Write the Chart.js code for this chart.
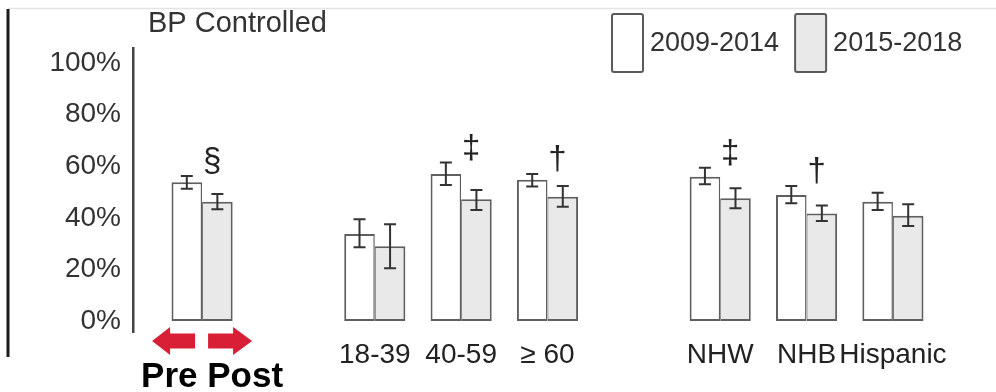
<!DOCTYPE html>
<html>
<head>
<meta charset="utf-8">
<script src="https://cdn.jsdelivr.net/npm/chart.js@4/dist/chart.umd.min.js"></script>
<style>
  html, body { margin: 0; padding: 0; background: #fff; }
  canvas { display: block; }
</style>
</head>
<body>
<canvas id="chart" width="996" height="392"></canvas>
<script>
// Slots along the x axis; empty strings are the gaps between groups.
const slotLabels = ["Overall", "", "18-39", "40-59", "≥ 60", "", "NHW", "NHB", "Hispanic"];

// One bar pair per group.
const groups = ["Overall", "18-39", "40-59", "≥ 60", "NHW", "NHB", "Hispanic"];

const seriesNames = ["2009-2014", "2015-2018"];

// % with blood pressure controlled, with 95% CI bounds
const controlled0914 = [53.8, 33.7, 57.0, 54.7, 55.9, 48.8, 46.2];
const low0914        = [51.3, 28.6, 52.7, 52.1, 53.0, 45.6, 43.0];
const high0914       = [56.2, 39.4, 61.4, 57.0, 59.4, 52.3, 49.7];

const controlled1518 = [46.2, 29.0, 47.2, 48.2, 47.6, 41.7, 40.8];
const low1518        = [43.3, 20.4, 43.0, 44.3, 43.7, 38.8, 36.8];
const high1518       = [49.2, 37.5, 50.8, 52.3, 51.4, 44.8, 45.2];

// Significance markers for the change between periods
const significance = ["§", "", "‡", "†", "‡", "†", ""];

const yTicks = [0, 20, 40, 60, 80, 100];

const FONT = '"Liberation Sans", Arial, Helvetica, sans-serif';
const slotOf = g => slotLabels.indexOf(g);
const toPoints = vals => vals.map((v, i) => ({ x: slotOf(groups[i]), y: v }));

const lows = [low0914, low1518];
const highs = [high0914, high1518];

const extras = {
  id: 'extras',
  beforeDraw(chart) {
    const ctx = chart.ctx;
    ctx.save();
    // page frame
    ctx.strokeStyle = '#e4e4e4';
    ctx.lineWidth = 1.5;
    ctx.beginPath();
    ctx.moveTo(8, 8.5);
    ctx.lineTo(chart.width, 8.5);
    ctx.stroke();
    ctx.strokeStyle = '#1c1c1c';
    ctx.lineWidth = 3;
    ctx.beginPath();
    ctx.moveTo(8, 9);
    ctx.lineTo(8, 357);
    ctx.stroke();
    ctx.restore();
  },
  afterDatasetsDraw(chart) {
    const ctx = chart.ctx;
    const xs = chart.scales.x, ys = chart.scales.y;
    ctx.save();
    // error bars
    ctx.strokeStyle = '#333';
    ctx.lineWidth = 2;
    chart.data.datasets.forEach((ds, d) => {
      const meta = chart.getDatasetMeta(d);
      meta.data.forEach((bar, i) => {
        const x = bar.x;
        const yHi = ys.getPixelForValue(highs[d][i]);
        const yLo = ys.getPixelForValue(lows[d][i]);
        ctx.beginPath();
        ctx.moveTo(x, yHi); ctx.lineTo(x, yLo);
        ctx.moveTo(x - 6, yHi); ctx.lineTo(x + 6, yHi);
        ctx.moveTo(x - 6, yLo); ctx.lineTo(x + 6, yLo);
        ctx.stroke();
      });
    });
    // significance markers
    ctx.fillStyle = '#222';
    ctx.font = '33px ' + FONT;
    ctx.textAlign = 'center';
    ctx.textBaseline = 'alphabetic';
    significance.forEach((s, i) => {
      if (!s) return;
      const x = xs.getPixelForValue(slotOf(groups[i])) + 10;
      const bottom = ys.getPixelForValue(high0914[i]) - 2;
      const m = ctx.measureText(s);
      ctx.fillText(s, x, bottom - m.actualBoundingBoxDescent);
    });
    ctx.restore();
  },
  afterDraw(chart) {
    const ctx = chart.ctx;
    const xs = chart.scales.x;
    const area = chart.chartArea;
    ctx.save();
    // title
    ctx.fillStyle = '#333';
    ctx.font = '29px ' + FONT;
    ctx.textAlign = 'left';
    ctx.textBaseline = 'alphabetic';
    ctx.fillText('BP Controlled', 148, 32);

    // legend
    ctx.font = '27px ' + FONT;
    let lx = 612;
    chart.data.datasets.forEach(ds => {
      ctx.fillStyle = ds.backgroundColor;
      ctx.strokeStyle = '#5a5a5a';
      ctx.lineWidth = 2;
      ctx.beginPath();
      ctx.roundRect(lx, 14, 31, 58, 2);
      ctx.fill();
      ctx.stroke();
      ctx.fillStyle = '#333';
      ctx.fillText(ds.label, lx + 38, 51);
      lx += 38 + ctx.measureText(ds.label).width + 16;
    });

    // Pre / Post arrows under the overall pair
    const cx = xs.getPixelForValue(slotOf('Overall'));
    const cy = area.bottom + 9;
    ctx.fillStyle = '#d91f35';
    ctx.beginPath();
    ctx.moveTo(cx - 50, cy);
    ctx.lineTo(cx - 32, cy - 14);
    ctx.lineTo(cx - 32, cy - 7.5);
    ctx.lineTo(cx - 7, cy - 7.5);
    ctx.lineTo(cx - 7, cy + 7.5);
    ctx.lineTo(cx - 32, cy + 7.5);
    ctx.lineTo(cx - 32, cy + 14);
    ctx.closePath();
    ctx.fill();
    ctx.beginPath();
    ctx.moveTo(cx + 50, cy);
    ctx.lineTo(cx + 31, cy - 14);
    ctx.lineTo(cx + 31, cy - 7.5);
    ctx.lineTo(cx + 6, cy - 7.5);
    ctx.lineTo(cx + 6, cy + 7.5);
    ctx.lineTo(cx + 31, cy + 7.5);
    ctx.lineTo(cx + 31, cy + 14);
    ctx.closePath();
    ctx.fill();

    ctx.fillStyle = '#000';
    ctx.font = 'bold 35px ' + FONT;
    ctx.textAlign = 'center';
    ctx.fillText('Pre Post', cx + 10, 387);
    ctx.restore();
  }
};

new Chart(document.getElementById('chart'), {
  type: 'bar',
  data: {
    datasets: [
      {
        label: seriesNames[0],
        data: toPoints(controlled0914),
        backgroundColor: '#ffffff',
        borderColor: '#5f5f5f',
        borderWidth: { top: 2, left: 2, bottom: 2, right: 1.5 },
        borderSkipped: false
      },
      {
        label: seriesNames[1],
        data: toPoints(controlled1518),
        backgroundColor: '#e8e9e8',
        borderColor: '#5f5f5f',
        borderWidth: { top: 2, left: 1, bottom: 2, right: 2 },
        borderSkipped: false
      }
    ]
  },
  options: {
    responsive: false,
    animation: false,
    devicePixelRatio: 1,
    layout: { padding: { top: 48, right: 34, bottom: 0, left: 0 } },
    datasets: { bar: { categoryPercentage: 0.708, barPercentage: 1.0 } },
    plugins: { legend: { display: false }, tooltip: { enabled: false }, title: { display: false } },
    scales: {
      x: {
        type: 'linear',
        offset: false,
        min: -0.8,
        max: 8.8,
        grid: { display: false, drawTicks: false },
        border: { display: false },
        afterBuildTicks: s => { s.ticks = slotLabels.map((_, i) => ({ value: i })); },
        afterFit: s => { s.height = 60; },
        ticks: {
          autoSkip: false,
          maxRotation: 0,
          padding: 6,
          color: '#222',
          font: { family: FONT, size: 28 },
          callback: v => (slotLabels[v] === 'Overall' ? '' : slotLabels[v])
        }
      },
      y: {
        min: -4.26,
        max: 105.8,
        grid: { display: false, drawTicks: false },
        border: { display: true, color: '#444', width: 2.5 },
        afterBuildTicks: s => { s.ticks = yTicks.map(v => ({ value: v })); },
        afterFit: s => { s.width = 133; },
        ticks: {
          padding: 12,
          color: '#333',
          font: { family: FONT, size: 28 },
          callback: v => v + '%'
        }
      }
    }
  },
  plugins: [extras]
});
</script>
</body>
</html>
